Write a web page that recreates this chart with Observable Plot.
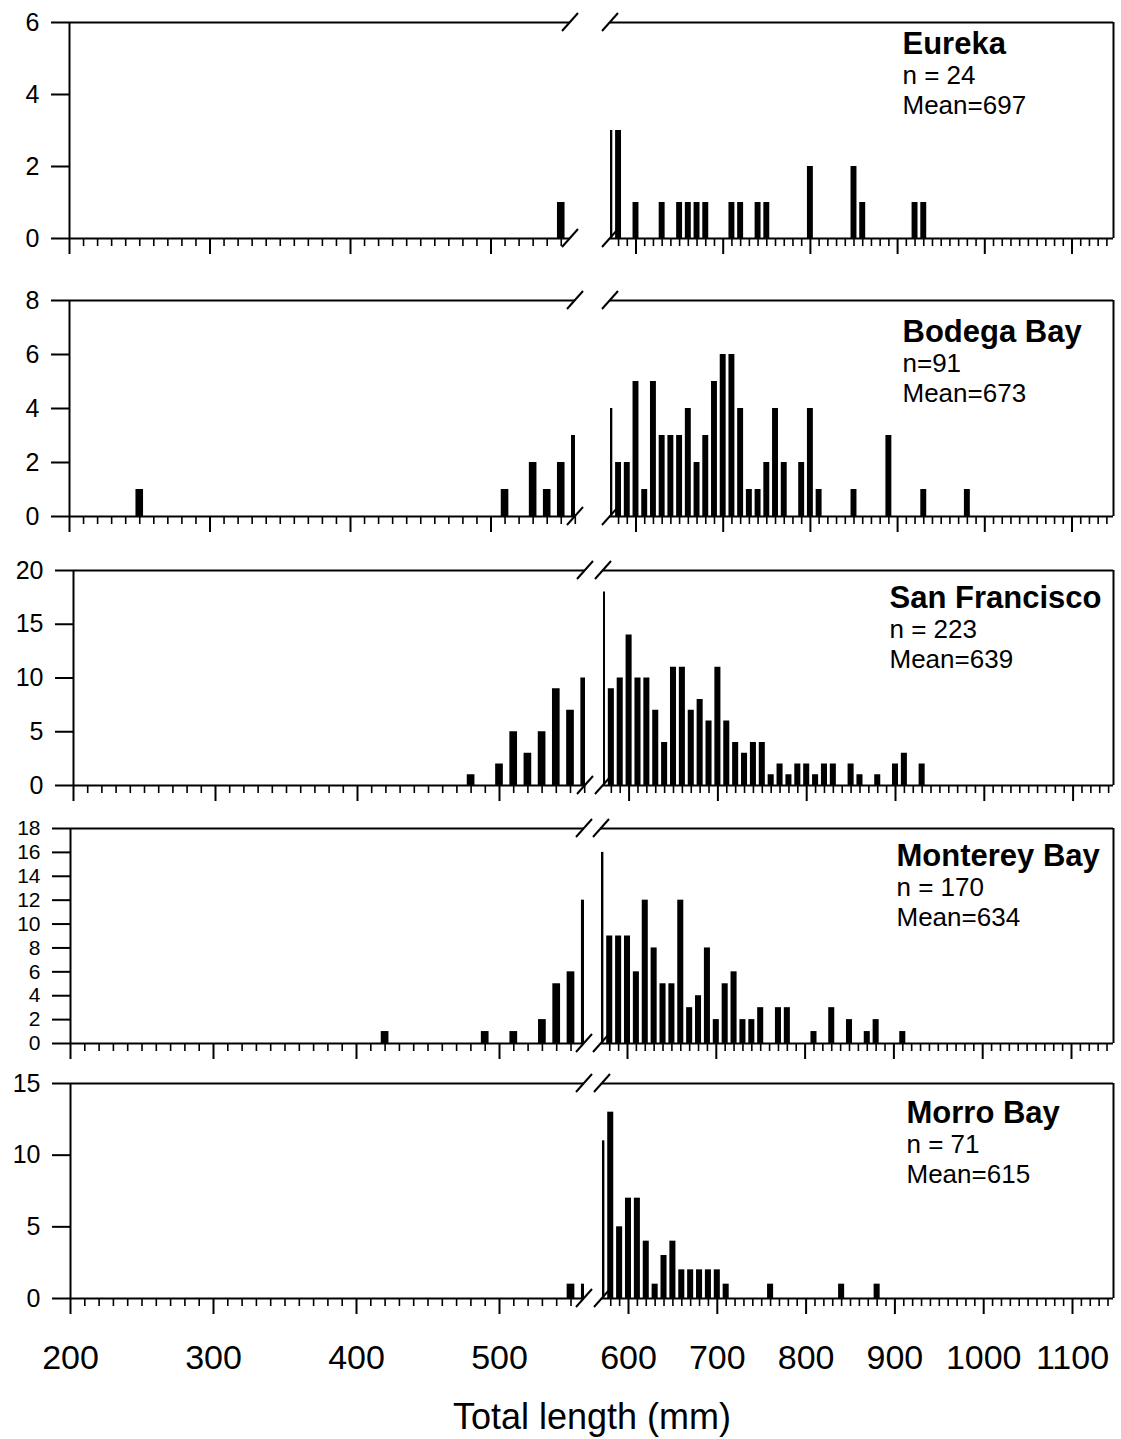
<!DOCTYPE html>
<html>
<head>
<meta charset="utf-8">
<script src="https://cdn.jsdelivr.net/npm/d3@7"></script>
<script src="https://cdn.jsdelivr.net/npm/@observablehq/plot@0.6"></script>
<style>
  body { margin: 0; background: #fff; }
  #chart { position: relative; width: 1121px; height: 1439px; background: #fff;
           font-family: "Liberation Sans", Arial, Helvetica, sans-serif; color: #000; }
  #xtitle { position: absolute; left: 0; width: 1184px; top: 1399px; line-height: 36px;
            font-size: 36px; text-align: center; }
</style>
</head>
<body>
<div id="chart"><div id="xtitle">Total length (mm)</div></div>
<script>
// ---------------- DATA ----------------
const panelNames = ["Eureka", "Bodega Bay", "San Francisco", "Monterey Bay", "Morro Bay"];
const panelN = ["n = 24", "n=91", "n = 223", "n = 170", "n = 71"];
const panelMean = ["Mean=697", "Mean=673", "Mean=639", "Mean=634", "Mean=615"];
const yMax = [6, 8, 20, 18, 15];
const yTicks = [
  [0, 2, 4, 6],
  [0, 2, 4, 6, 8],
  [0, 5, 10, 15, 20],
  [0, 2, 4, 6, 8, 10, 12, 14, 16, 18],
  [0, 5, 10, 15]
];
const leftMajorTicks = [200, 300, 400, 500];
const rightMajorTicks = [600, 700, 800, 900, 1000, 1100];

// Total length bins (mm) and counts
const eurekaLength = [550, 570, 580, 600, 630, 650, 660, 670, 680, 710, 720, 740, 750, 800, 850, 860, 920, 930];
const eurekaCount  = [1, 3, 3, 1, 1, 1, 1, 1, 1, 1, 1, 1, 1, 2, 2, 1, 1, 1];

const bodegaLength = [250, 510, 530, 540, 550, 560, 570, 580, 590, 600, 610, 620, 630, 640, 650, 660, 670,
                      680, 690, 700, 710, 720, 730, 740, 750, 760, 770, 790, 800, 810, 850, 890, 930, 980];
const bodegaCount  = [1, 1, 2, 1, 2, 3, 4, 2, 2, 5, 1, 5, 3, 3, 3, 4, 2,
                      3, 5, 6, 6, 4, 1, 1, 2, 4, 2, 2, 4, 1, 1, 3, 1, 1];

const sfLength = [480, 500, 510, 520, 530, 540, 550, 560, 570, 580, 590, 600, 610, 620, 630, 640, 650, 660,
                  670, 680, 690, 700, 710, 720, 730, 740, 750, 760, 770, 780, 790, 800, 810, 820, 830,
                  850, 860, 880, 900, 910, 930];
const sfCount  = [1, 2, 5, 3, 5, 9, 7, 10, 18, 9, 10, 14, 10, 10, 7, 4, 11, 11,
                  7, 8, 6, 11, 6, 4, 3, 4, 4, 1, 2, 1, 2, 2, 1, 2, 2,
                  2, 1, 1, 2, 3, 2];

const montereyLength = [420, 490, 510, 530, 540, 550, 560, 570, 580, 590, 600, 610, 620, 630, 640, 650, 660,
                        670, 680, 690, 700, 710, 720, 730, 740, 750, 770, 780, 810, 830, 850, 870, 880, 910];
const montereyCount  = [1, 1, 1, 2, 5, 6, 12, 16, 9, 9, 9, 6, 12, 8, 5, 5, 12,
                        3, 4, 8, 2, 5, 6, 2, 2, 3, 3, 3, 1, 3, 2, 1, 2, 1];

const morroLength = [550, 560, 570, 580, 590, 600, 610, 620, 630, 640, 650, 660, 670, 680, 690, 700, 710, 760, 840, 880];
const morroCount  = [1, 1, 11, 13, 5, 7, 7, 4, 1, 3, 4, 2, 2, 2, 2, 2, 1, 1, 1, 1];

// ---------------- LAYOUT (pixels) ----------------
const W = 1121;
const panelTop    = [22, 300, 570, 828, 1083];
const panelBottom = [238, 516, 785, 1043, 1298];
const axisPx      = [69, 69, 73, 70, 70];
const leftPxPerMm = [1.405, 1.405, 1.42, 1.43, 1.43];
const leftEndPx   = [570, 575, 585, 584, 584];
const x600Px      = [635.5, 635.5, 628.6, 627, 628];
const rightPxPerMm = [0.872, 0.872, 0.888, 0.888, 0.888];
const rightStartPx = [610, 610, 603, 601, 602];
const rightEndPx = 1113;
const labelPx = [902, 902, 889, 896, 906];
const labelDy = [22, 32, 28, 28, 30];
const yFontSize = [25, 25, 25, 21, 25];
const MT = 24, MB = 30, MB_LAST = 100;
const LHW = 2.7, RHW = 3.4; // half bar widths (mm)
const FONT = "'Liberation Sans', Arial, Helvetica, sans-serif";

const datasets = [
  [eurekaLength, eurekaCount],
  [bodegaLength, bodegaCount],
  [sfLength, sfCount],
  [montereyLength, montereyCount],
  [morroLength, morroCount]
];

function breakMark(xValue, yTop) {
  return (index, scales) => {
    const ns = "http://www.w3.org/2000/svg";
    const g = document.createElementNS(ns, "g");
    const cx = scales.x(xValue);
    for (const yv of [0, yTop]) {
      const cy = scales.y(yv);
      const l = document.createElementNS(ns, "line");
      l.setAttribute("x1", cx - 8); l.setAttribute("y1", cy + 9);
      l.setAttribute("x2", cx + 8); l.setAttribute("y2", cy - 9);
      l.setAttribute("stroke", "black"); l.setAttribute("stroke-width", 2);
      g.appendChild(l);
    }
    return g;
  };
}

const chart = document.getElementById("chart");

panelNames.forEach((name, i) => {
  const [lens, cnts] = datasets[i];
  const rows = lens.map((v, j) => ({len: v, count: cnts[j]}));
  const isLast = i === panelNames.length - 1;
  const mb = isLast ? MB_LAST : MB;
  const h = MT + (panelBottom[i] - panelTop[i]) + mb;
  const top = panelTop[i] - MT;
  const leftEndVal = 200 + (leftEndPx[i] - axisPx[i]) / leftPxPerMm[i];
  const rightStartVal = 600 - (x600Px[i] - rightStartPx[i]) / rightPxPerMm[i];
  const rightEndVal = 600 + (rightEndPx - x600Px[i]) / rightPxPerMm[i];

  const leftMinor = d3.range(210, leftEndVal, 10).filter(v => v % 100 !== 0);
  const rightMinor = d3.range(580, rightEndVal, 10).filter(v => v % 100 !== 0);
  const fmt = isLast ? (d => `${d}`) : (() => "");
  const style = {background: "transparent", overflow: "visible", fontFamily: FONT, color: "black"};

  const left = Plot.plot({
    width: W, height: h,
    marginTop: MT, marginBottom: mb, marginLeft: axisPx[i], marginRight: W - leftEndPx[i],
    style,
    x: {type: "linear", domain: [200, leftEndVal], axis: null},
    y: {type: "linear", domain: [0, yMax[i]], axis: null},
    marks: [
      Plot.rectY(rows, {x1: d => d.len - LHW, x2: d => d.len + LHW, y1: 0, y2: "count", fill: "black", inset: 0, clip: true}),
      Plot.ruleY([0, yMax[i]], {stroke: "black", strokeWidth: 2}),
      Plot.ruleX([200], {stroke: "black", strokeWidth: 2}),
      Plot.axisY({ticks: yTicks[i], tickSize: 18, tickPadding: 12, fontSize: yFontSize[i], strokeWidth: 2,
        tickFormat: d => `${d}`, label: null}),
      Plot.axisX({ticks: leftMinor, tickSize: 8, tickFormat: () => "", strokeWidth: 1.6, label: null}),
      Plot.axisX({ticks: leftMajorTicks, tickSize: 16, tickPadding: 30, fontSize: 34, strokeWidth: 2, tickFormat: fmt, label: null}),
      breakMark(leftEndVal, yMax[i])
    ]
  });

  const right = Plot.plot({
    width: W, height: h,
    marginTop: MT, marginBottom: mb, marginLeft: rightStartPx[i], marginRight: W - rightEndPx,
    style,
    x: {type: "linear", domain: [rightStartVal, rightEndVal], axis: null},
    y: {type: "linear", domain: [0, yMax[i]], axis: null},
    marks: [
      Plot.rectY(rows, {x1: d => d.len - RHW, x2: d => d.len + RHW, y1: 0, y2: "count", fill: "black", inset: 0, clip: true}),
      Plot.ruleY([0, yMax[i]], {stroke: "black", strokeWidth: 2}),
      Plot.ruleX([rightEndVal], {stroke: "black", strokeWidth: 2}),
      Plot.axisX({ticks: rightMinor, tickSize: 8, tickFormat: () => "", strokeWidth: 1.6, label: null}),
      Plot.axisX({ticks: rightMajorTicks, tickSize: 16, tickPadding: 30, fontSize: 34, strokeWidth: 2, tickFormat: fmt, label: null}),
      breakMark(rightStartVal, yMax[i]),
      Plot.text([name], {text: d => d, frameAnchor: "top-left", dx: labelPx[i] - rightStartPx[i], dy: labelDy[i],
        textAnchor: "start", lineAnchor: "middle", fontWeight: "bold", fontSize: 31, fill: "black"}),
      Plot.text([panelN[i]], {text: d => d, frameAnchor: "top-left", dx: labelPx[i] - rightStartPx[i], dy: labelDy[i] + 31,
        textAnchor: "start", lineAnchor: "middle", fontSize: 26, fill: "black"}),
      Plot.text([panelMean[i]], {text: d => d, frameAnchor: "top-left", dx: labelPx[i] - rightStartPx[i], dy: labelDy[i] + 61,
        textAnchor: "start", lineAnchor: "middle", fontSize: 26, fill: "black"})
    ]
  });

  for (const svg of [left, right]) {
    svg.style.position = "absolute";
    svg.style.left = "0px";
    svg.style.top = top + "px";
    chart.appendChild(svg);
  }
});
</script>
</body>
</html>
